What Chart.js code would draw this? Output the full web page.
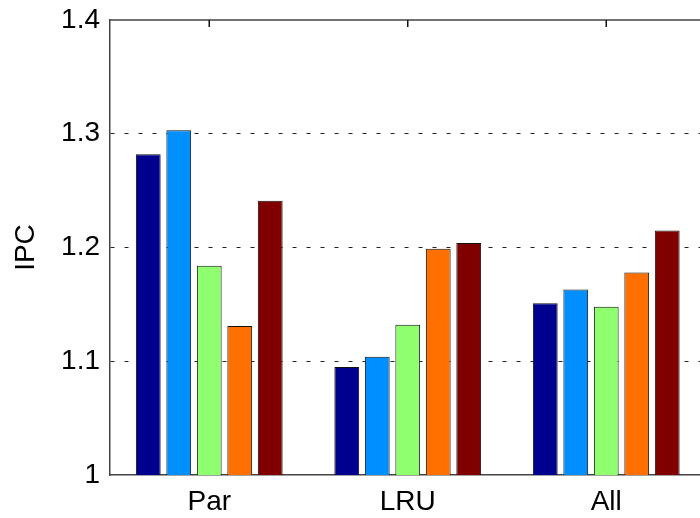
<!DOCTYPE html>
<html>
<head>
<meta charset="utf-8">
<script src="https://cdn.jsdelivr.net/npm/chart.js@4.4.1/dist/chart.umd.min.js"></script>
<style>
  html, body { margin: 0; padding: 0; background: #fff; overflow: hidden; width: 700px; height: 518px; }
  #wrap { width: 720px; height: 518px; position: relative; }
</style>
</head>
<body>
<div id="wrap"><canvas id="c" width="720" height="518"></canvas></div>
<script>
const categories = ['Par', 'LRU', 'All'];
const series1 = [1.282, 1.095, 1.151];
const series2 = [1.303, 1.104, 1.163];
const series3 = [1.184, 1.132, 1.148];
const series4 = [1.131, 1.199, 1.178];
const series5 = [1.241, 1.204, 1.215];
const seriesColors = ['#00008F', '#008FFF', '#8FFF70', '#FF7000', '#800000'];
const yTicks = [1, 1.1, 1.2, 1.3, 1.4];
const yTitle = 'IPC';

const FONT = "'Liberation Sans', Arial, Helvetica, sans-serif";
const allSeries = [series1, series2, series3, series4, series5];

const framePlugin = {
  id: 'frame',
  beforeDatasetsDraw(chart) {
    const ctx = chart.ctx, a = chart.chartArea, x = chart.scales.x;
    ctx.save();
    ctx.strokeStyle = '#444';
    ctx.lineWidth = 1.5;
    ctx.beginPath();
    categories.forEach((c, i) => {
      const px = x.getPixelForValue(i);
      ctx.moveTo(px, a.bottom); ctx.lineTo(px, a.bottom - 7);
    });
    ctx.stroke();
    ctx.restore();
  },
  afterDatasetsDraw(chart) {
    const ctx = chart.ctx, a = chart.chartArea, x = chart.scales.x;
    ctx.save();
    ctx.strokeStyle = '#444';
    ctx.lineWidth = 1.5;
    ctx.beginPath();
    ctx.moveTo(a.left, a.top); ctx.lineTo(a.right, a.top);
    ctx.moveTo(a.right, a.top); ctx.lineTo(a.right, a.bottom);
    ctx.stroke();
    ctx.beginPath();
    ctx.strokeStyle = '#111';
    categories.forEach((c, i) => {
      const px = x.getPixelForValue(i);
      ctx.moveTo(px, a.top); ctx.lineTo(px, a.top + 7);
    });
    ctx.stroke();
    ctx.restore();
  }
};

new Chart(document.getElementById('c'), {
  type: 'bar',
  data: {
    labels: categories,
    datasets: allSeries.map((s, i) => ({
      label: 'S' + (i + 1),
      data: s,
      backgroundColor: seriesColors[i],
      borderColor: '#111',
      borderWidth: 1,
      borderSkipped: 'start',
      categoryPercentage: 0.768,
      barPercentage: 0.813
    }))
  },
  options: {
    responsive: false,
    animation: false,
    devicePixelRatio: 1,
    layout: { padding: { left: 0, top: 20, right: 14.5, bottom: 0 } },
    plugins: { legend: { display: false }, tooltip: { enabled: false } },
    scales: {
      x: {
        grid: { display: false, drawTicks: false },
        border: { display: true, color: '#444', width: 1.5 },
        ticks: { color: '#000', font: { family: FONT, size: 28 }, padding: 10, maxRotation: 0 },
        afterFit(scale) { scale.height = 43; scale.paddingLeft = 0; scale.paddingRight = 0; }
      },
      y: {
        min: 1, max: 1.4,
        afterBuildTicks(scale) { scale.ticks = yTicks.map(v => ({ value: v })); },
        grid: {
          drawTicks: false,
          lineWidth: 1,
          color: (ctx) => (ctx.tick && (ctx.tick.value === 1 || ctx.tick.value === 1.4)) ? 'rgba(0,0,0,0)' : '#222'
        },
        border: { display: true, color: '#444', width: 1.5, dash: [4, 10] },
        ticks: {
          color: '#000', font: { family: FONT, size: 28 }, padding: 10,
          callback: (v) => String(v)
        },
        title: { display: true, text: yTitle, color: '#000', font: { family: FONT, size: 28 }, padding: { top: 9, bottom: 0 } },
        afterFit(scale) { scale.width = 110; scale.paddingTop = 0; scale.paddingBottom = 0; }
      }
    }
  },
  plugins: [framePlugin]
});
</script>
</body>
</html>
